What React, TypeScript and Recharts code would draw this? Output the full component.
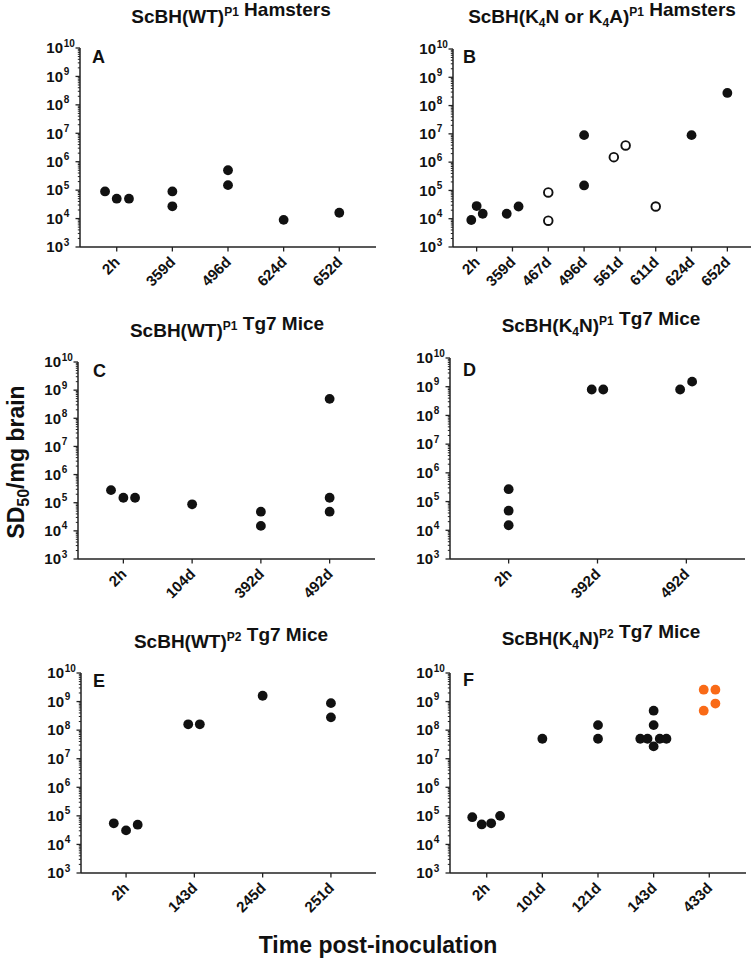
import React from 'react';
import { ScatterChart, Scatter, XAxis, YAxis } from 'recharts';

const FONT = '"Liberation Sans", Arial, Helvetica, sans-serif';
const INK = '#111';
const ORANGE = '#F96A17';

// ---------- Panel A : ScBH(WT)P1 Hamsters ----------
const catsA = ['2h', '359d', '496d', '624d', '652d'];
const idxA = [0, 0, 0, 1, 1, 2, 2, 3, 4];
const valsA = [9e4, 5e4, 5e4, 9e4, 2.7e4, 5e5, 1.5e5, 9e3, 1.6e4];
const jitA = [-0.21, 0, 0.22, 0, 0, 0, 0, 0, 0];

// ---------- Panel B : ScBH(K4N or K4A)P1 Hamsters ----------
const catsB = ['2h', '359d', '467d', '496d', '561d', '611d', '624d', '652d'];
const idxBFilled = [0, 0, 0, 1, 1, 3, 3, 6, 7];
const valsBFilled = [9e3, 2.8e4, 1.5e4, 1.5e4, 2.7e4, 9e6, 1.5e5, 9e6, 2.8e8];
const jitBFilled = [-0.15, 0, 0.17, -0.16, 0.17, 0, 0, 0, 0];
const idxBOpen = [2, 2, 4, 4, 5];
const valsBOpen = [8.5e4, 8.5e3, 1.5e6, 3.9e6, 2.7e4];
const jitBOpen = [0, 0, -0.17, 0.16, 0];

// ---------- Panel C : ScBH(WT)P1 Tg7 Mice ----------
const catsC = ['2h', '104d', '392d', '492d'];
const idxC = [0, 0, 0, 1, 2, 2, 3, 3, 3];
const valsC = [2.8e5, 1.5e5, 1.5e5, 8.8e4, 4.8e4, 1.5e4, 4.9e8, 1.5e5, 4.8e4];
const jitC = [-0.18, 0, 0.17, 0, 0, 0, 0, 0, 0];

// ---------- Panel D : ScBH(K4N)P1 Tg7 Mice ----------
const catsD = ['2h', '392d', '492d'];
const idxD = [0, 0, 0, 1, 1, 2, 2];
const valsD = [2.7e5, 4.8e4, 1.5e4, 8e8, 8e8, 8e8, 1.5e9];
const jitD = [0, 0, 0, -0.065, 0.065, -0.07, 0.065];

// ---------- Panel E : ScBH(WT)P2 Tg7 Mice ----------
const catsE = ['2h', '143d', '245d', '251d'];
const idxE = [0, 0, 0, 1, 1, 2, 3, 3];
const valsE = [5.5e4, 3.1e4, 4.9e4, 1.6e8, 1.6e8, 1.6e9, 8.8e8, 2.8e8];
const jitE = [-0.18, 0, 0.17, -0.09, 0.08, 0, 0, 0];

// ---------- Panel F : ScBH(K4N)P2 Tg7 Mice ----------
const catsF = ['2h', '101d', '121d', '143d', '433d'];
const idxFBlack = [0, 0, 0, 0, 1, 2, 2, 3, 3, 3, 3, 3, 3, 3];
const valsFBlack = [9e4, 5e4, 5.5e4, 1e5, 5e7, 1.5e8, 5e7, 4.8e8, 1.5e8, 5e7, 5e7, 5e7, 5e7, 2.7e7];
const jitFBlack = [-0.26, -0.09, 0.08, 0.24, 0, 0, 0, 0, 0, -0.24, -0.11, 0.11, 0.23, 0];
const idxFOrange = [4, 4, 4, 4];
const valsFOrange = [2.6e9, 2.6e9, 4.8e8, 8.5e8];
const jitFOrange = [-0.1, 0.11, -0.1, 0.11];

// ---------- Y axis ticks (log decades + minor ticks) ----------
const majorTicks = [1e3, 1e4, 1e5, 1e6, 1e7, 1e8, 1e9, 1e10];
const minorMultipliers = [2, 3, 4, 5, 6, 7, 8, 9];
const yTicks: number[] = [];
majorTicks.forEach((m, i) => {
  yTicks.push(m);
  if (i < majorTicks.length - 1) minorMultipliers.forEach((k) => yTicks.push(k * m));
});

type Pt = { x: number; y: number };
const build = (idx: number[], vals: number[], jit: number[]): Pt[] =>
  idx.map((c, i) => ({ x: c + jit[i], y: vals[i] }));

const YTick = (props: any) => {
  const { x, y, payload } = props;
  const v = payload.value as number;
  const e = Math.round(Math.log10(v));
  const major = Math.abs(v / Math.pow(10, e) - 1) < 1e-6;
  if (!major) {
    return <line x1={x - 2.2} x2={x} y1={y} y2={y} stroke="#222" strokeWidth={1} />;
  }
  return (
    <g>
      <line x1={x - 4.5} x2={x} y1={y} y2={y} stroke="#222" strokeWidth={1.3} />
      <text x={x - 17} y={y + 5.3} textAnchor="end" fontFamily={FONT} fontWeight="bold" fontSize={15} fill={INK}>
        10
      </text>
      <text x={x - 16.2} y={y - 1.5} textAnchor="start" fontFamily={FONT} fontWeight="bold" fontSize={10} fill={INK}>
        {e}
      </text>
    </g>
  );
};

const makeXTick = (cats: string[]) => (props: any) => {
  const { x, y, payload } = props;
  const label = cats[Math.round(payload.value)];
  const ax = x + 4;
  const ay = y + 16;
  return (
    <g>
      <line x1={x} x2={x} y1={y} y2={y + 4.5} stroke="#222" strokeWidth={1.3} />
      <text
        x={ax}
        y={ay}
        textAnchor="end"
        transform={`rotate(-45 ${ax} ${ay})`}
        fontFamily={FONT}
        fontWeight="bold"
        fontSize={15}
        fill={INK}
      >
        {label}
      </text>
    </g>
  );
};

const filledDot = (color: string) => (p: any) =>
  <circle cx={p.cx} cy={p.cy} r={4.9} fill={color} stroke="none" />;
const openDot = (p: any) =>
  <circle cx={p.cx} cy={p.cy} r={4.3} fill="#fff" stroke={INK} strokeWidth={1.9} />;

type Series = { data: Pt[]; shape: any; name: string };

type PanelProps = {
  cats: string[];
  series: Series[];
  left: number;
  right: number;
  top: number;
  bottom: number;
};

const PAD = 0.66;
const YW = 60;
const XH = 50;
const MT = 10;
const MR = 4;

const Panel = ({ cats, series, left, right, top, bottom }: PanelProps) => {
  const pw = right - left;
  const ph = bottom - top;
  const width = YW + pw + MR;
  const height = MT + ph + XH;
  const xTicks = cats.map((_, i) => i);
  return (
    <div style={{ position: 'absolute', left: left - YW, top: top - MT, width, height }}>
      <ScatterChart width={width} height={height} margin={{ top: MT, right: MR, bottom: 0, left: 0 }}>
        <XAxis
          type="number"
          dataKey="x"
          domain={[-PAD, cats.length - 1 + PAD]}
          ticks={xTicks}
          interval={0}
          allowDataOverflow
          height={XH}
          tickSize={0}
          tickMargin={0}
          tickLine={false}
          tick={makeXTick(cats)}
          axisLine={{ stroke: '#222', strokeWidth: 1.5 }}
        />
        <YAxis
          type="number"
          dataKey="y"
          scale="log"
          domain={[1e3, 1e10]}
          ticks={yTicks}
          interval={0}
          allowDataOverflow
          width={YW}
          tickSize={0}
          tickMargin={0}
          tickLine={false}
          tick={YTick}
          axisLine={{ stroke: '#222', strokeWidth: 1.5 }}
        />
        {series.map((s) => (
          <Scatter key={s.name} name={s.name} data={s.data} shape={s.shape} isAnimationActive={false} />
        ))}
      </ScatterChart>
    </div>
  );
};

const T = (props: any) => (
  <text fontFamily={FONT} fontWeight="bold" fill={INK} {...props} />
);

const Sup = ({ children }: any) => (
  <>
    <tspan dy={-7} fontSize={12}>{children}</tspan>
    <tspan dy={7}>{''}</tspan>
  </>
);

export default function App() {
  return (
    <div
      style={{
        position: 'absolute',
        left: 0,
        top: 0,
        width: 753,
        height: 960,
        background: '#fff',
        overflow: 'hidden',
        fontFamily: FONT,
      }}
    >
      <Panel
        cats={catsA}
        series={[{ name: 'A', data: build(idxA, valsA, jitA), shape: filledDot(INK) }]}
        left={80}
        right={376}
        top={48}
        bottom={247}
      />
      <Panel
        cats={catsB}
        series={[
          { name: 'Bf', data: build(idxBFilled, valsBFilled, jitBFilled), shape: filledDot(INK) },
          { name: 'Bo', data: build(idxBOpen, valsBOpen, jitBOpen), shape: openDot },
        ]}
        left={453}
        right={751}
        top={49}
        bottom={247}
      />
      <Panel
        cats={catsC}
        series={[{ name: 'C', data: build(idxC, valsC, jitC), shape: filledDot(INK) }]}
        left={78}
        right={375}
        top={362}
        bottom={559}
      />
      <Panel
        cats={catsD}
        series={[{ name: 'D', data: build(idxD, valsD, jitD), shape: filledDot(INK) }]}
        left={450}
        right={745}
        top={358}
        bottom={559}
      />
      <Panel
        cats={catsE}
        series={[{ name: 'E', data: build(idxE, valsE, jitE), shape: filledDot(INK) }]}
        left={81}
        right={376}
        top={673}
        bottom={873}
      />
      <Panel
        cats={catsF}
        series={[
          { name: 'Fb', data: build(idxFBlack, valsFBlack, jitFBlack), shape: filledDot(INK) },
          { name: 'Fo', data: build(idxFOrange, valsFOrange, jitFOrange), shape: filledDot(ORANGE) },
        ]}
        left={450}
        right={746}
        top={673}
        bottom={873}
      />
      <svg
        width={753}
        height={960}
        style={{ position: 'absolute', left: 0, top: 0, pointerEvents: 'none' }}
      >
        {/* panel titles */}
        <T x={231} y={23} fontSize={19} textAnchor="middle">
          ScBH(WT)<Sup>P1</Sup> Hamsters
        </T>
        <T x={602} y={23} fontSize={19} textAnchor="middle">
          ScBH(K<tspan dy={4} fontSize={12}>4</tspan><tspan dy={-4}>N or K</tspan><tspan dy={4} fontSize={12}>4</tspan><tspan dy={-4}>A)</tspan><Sup>P1</Sup> Hamsters
        </T>
        <T x={227} y={337} fontSize={19} textAnchor="middle">
          ScBH(WT)<Sup>P1</Sup> Tg7 Mice
        </T>
        <T x={601} y={332} fontSize={19} textAnchor="middle">
          ScBH(K<tspan dy={4} fontSize={12}>4</tspan><tspan dy={-4}>N)</tspan><Sup>P1</Sup> Tg7 Mice
        </T>
        <T x={231} y={648} fontSize={19} textAnchor="middle">
          ScBH(WT)<Sup>P2</Sup> Tg7 Mice
        </T>
        <T x={601} y={645} fontSize={19} textAnchor="middle">
          ScBH(K<tspan dy={4} fontSize={12}>4</tspan><tspan dy={-4}>N)</tspan><Sup>P2</Sup> Tg7 Mice
        </T>

        {/* panel letters */}
        <T x={92} y={63} fontSize={18}>A</T>
        <T x={463} y={63} fontSize={18}>B</T>
        <T x={93} y={377} fontSize={18}>C</T>
        <T x={463} y={376} fontSize={18}>D</T>
        <T x={93} y={687} fontSize={18}>E</T>
        <T x={463} y={686} fontSize={18}>F</T>

        {/* axis titles */}
        <T x={24} y={462} fontSize={23} textAnchor="middle" transform="rotate(-90 24 462)">
          SD<tspan dy={5} fontSize={16}>50</tspan><tspan dy={-5}>/mg brain</tspan>
        </T>
        <T x={378} y={953} fontSize={23} textAnchor="middle">
          Time post-inoculation
        </T>
      </svg>
    </div>
  );
}
